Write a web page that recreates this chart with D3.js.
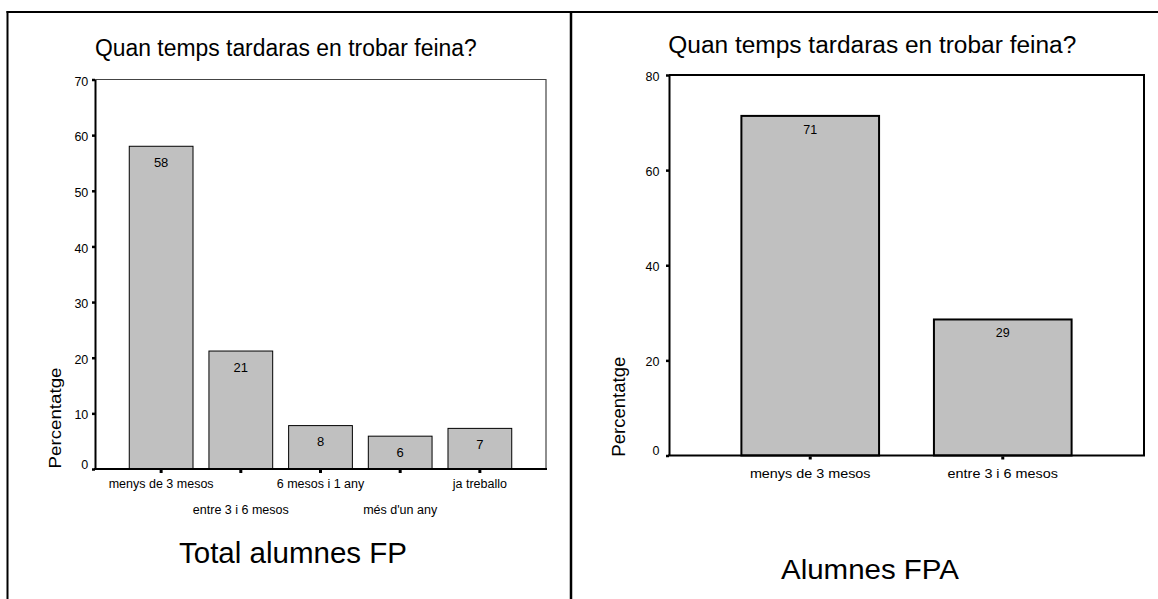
<!DOCTYPE html>
<html>
<head>
<meta charset="utf-8">
<script src="https://cdn.jsdelivr.net/npm/d3@7"></script>
<style>
  html, body { margin: 0; padding: 0; background: #fff; }
  svg { display: block; font-family: "Liberation Sans", Arial, Helvetica, sans-serif; }
</style>
</head>
<body>
<svg id="chart" width="1158" height="599"></svg>
<script>
// ---- data ----
const chartTitle = "Quan temps tardaras en trobar feina?";
const yAxisLabel = "Percentatge";

const categoriesFP = ["menys de 3 mesos", "entre 3 i 6 mesos", "6 mesos i 1 any", "més d'un any", "ja treballo"];
const valuesFP = [58.0, 21.2, 7.8, 5.9, 7.3];
const ticksFP = [0, 10, 20, 30, 40, 50, 60, 70];
const captionFP = "Total alumnes FP";

const categoriesFPA = ["menys de 3 mesos", "entre 3 i 6 mesos"];
const valuesFPA = [71.4, 28.6];
const ticksFPA = [0, 20, 40, 60, 80];
const captionFPA = "Alumnes FPA";

const svg = d3.select("#chart");
const fmt = d3.format(".0f");

svg.append("rect").attr("width", 1158).attr("height", 599).attr("fill", "#fff");

// outer frame
svg.append("line").attr("x1", 7.5).attr("x2", 7.5).attr("y1", 11).attr("y2", 599)
  .attr("stroke", "#000").attr("stroke-width", 2);
svg.append("line").attr("x1", 6.5).attr("x2", 1158).attr("y1", 12).attr("y2", 12)
  .attr("stroke", "#000").attr("stroke-width", 2);
svg.append("line").attr("x1", 571).attr("x2", 571).attr("y1", 11).attr("y2", 599)
  .attr("stroke", "#000").attr("stroke-width", 2.5);

function drawPanel(cfg) {
  const g = svg.append("g");
  const x = d3.scaleBand().domain(cfg.categories).range([cfg.x0, cfg.x1])
    .paddingInner(cfg.padInner).paddingOuter(cfg.padOuter);
  const y = d3.scaleLinear().domain([0, cfg.ticks[cfg.ticks.length - 1]]).range([cfg.y0, cfg.y1]);

  // title
  g.append("text").attr("x", cfg.titleX).attr("y", cfg.titleY)
    .attr("font-size", cfg.titleSize).attr("fill", "#000")
    .attr("textLength", cfg.titleLen).attr("lengthAdjust", "spacingAndGlyphs")
    .text(chartTitle);

  // plot frame top/right
  g.append("path")
    .attr("d", `M${cfg.x0},${cfg.y1}H${cfg.x1}V${cfg.y0}`)
    .attr("fill", "none").attr("stroke", cfg.frameColor).attr("stroke-width", cfg.frameWidth);

  // bars
  g.selectAll("rect.bar").data(cfg.values).join("rect")
    .attr("class", "bar")
    .attr("x", (d, i) => x(cfg.categories[i]))
    .attr("width", x.bandwidth())
    .attr("y", d => y(d))
    .attr("height", d => y(0) - y(d))
    .attr("fill", "#c0c0c0")
    .attr("stroke", "#000").attr("stroke-width", cfg.barStroke);

  // bar value labels
  g.selectAll("text.val").data(cfg.values).join("text")
    .attr("class", "val")
    .attr("x", (d, i) => x(cfg.categories[i]) + x.bandwidth() / 2)
    .attr("y", d => y(d) + cfg.valOffset)
    .attr("text-anchor", "middle")
    .attr("font-size", cfg.valSize).attr("fill", "#000")
    .text(d => fmt(d));

  // y axis
  const ya = g.append("g").attr("transform", `translate(${cfg.x0},0)`)
    .call(d3.axisLeft(y).tickValues(cfg.ticks).tickSize(3).tickPadding(cfg.yPad).tickSizeOuter(0));
  ya.select(".domain").attr("stroke", "#000").attr("stroke-width", 2);
  ya.selectAll(".tick line").attr("stroke", "#000").attr("stroke-width", 2.5);
  ya.selectAll(".tick text").attr("font-size", 12.5).attr("fill", "#000")
    .attr("font-family", "'Liberation Sans', Arial, sans-serif")
    .attr("dy", d => d === 0 ? cfg.zeroDy : cfg.tickDy);

  // x axis
  const xa = g.append("g").attr("transform", `translate(0,${cfg.y0})`)
    .call(d3.axisBottom(x).tickSize(3).tickSizeOuter(0));
  xa.select(".domain").attr("stroke", "#000").attr("stroke-width", 2)
    .attr("d", `M${cfg.x0 - 1},0H${cfg.x1 + 1}`);
  xa.selectAll(".tick line").attr("stroke", "#000").attr("stroke-width", 3).attr("y1", 1).attr("y2", 4);
  xa.selectAll(".tick text").remove();

  // category labels
  g.selectAll("text.cat").data(cfg.categories).join("text")
    .attr("class", "cat")
    .attr("x", d => x(d) + x.bandwidth() / 2)
    .attr("y", (d, i) => cfg.catY[i % cfg.catY.length])
    .attr("text-anchor", "middle")
    .attr("font-size", 12.5).attr("fill", "#000")
    .each(function(d) {
      if (cfg.catScale) {
        d3.select(this).attr("textLength", d.length ? null : null);
      }
    })
    .text(d => d);
  if (cfg.catScale) {
    g.selectAll("text.cat").each(function() {
      const w = this.getComputedTextLength();
      d3.select(this).attr("textLength", w * cfg.catScale).attr("lengthAdjust", "spacingAndGlyphs");
    });
  }

  // y axis title
  g.append("text")
    .attr("transform", `translate(${cfg.yLabelX},${cfg.yLabelY}) rotate(-90)`)
    .attr("text-anchor", "middle")
    .attr("font-size", cfg.yLabelSize).attr("fill", "#000")
    .attr("textLength", cfg.yLabelLen).attr("lengthAdjust", "spacingAndGlyphs")
    .text(yAxisLabel);

  // caption
  g.append("text").attr("x", cfg.capX).attr("y", cfg.capY)
    .attr("text-anchor", "middle").attr("font-size", cfg.capSize).attr("fill", "#000")
    .attr("textLength", cfg.capLen).attr("lengthAdjust", "spacingAndGlyphs")
    .text(cfg.caption);
}

drawPanel({
  categories: categoriesFP, values: valuesFP, ticks: ticksFP, caption: captionFP,
  x0: 95, x1: 546, y0: 469, y1: 79.5, padInner: 0.2, padOuter: 0.43,
  titleX: 95, titleY: 55.7, titleSize: 23.5, titleLen: 381.7,
  frameColor: "#444", frameWidth: 1.2, barStroke: 1,
  valOffset: 20.5, valSize: 13,
  yPad: 3.7, tickDy: "0.45em", zeroDy: "-0.05em",
  catY: [488.3, 513.5], catScale: null,
  yLabelX: 60.5, yLabelY: 418, yLabelSize: 17, yLabelLen: 101,
  capX: 293, capY: 562.7, capSize: 29, capLen: 228
});

drawPanel({
  categories: categoriesFPA, values: valuesFPA, ticks: ticksFPA, caption: captionFPA,
  x0: 669, x1: 1144, y0: 455.5, y1: 75, padInner: 0.285, padOuter: 0.376,
  titleX: 668.3, titleY: 52.7, titleSize: 23, titleLen: 408,
  frameColor: "#000", frameWidth: 2, barStroke: 2,
  valOffset: 17.8, valSize: 12.5,
  yPad: 6.5, tickDy: "0.4em", zeroDy: "-0.05em",
  catY: [477.7], catScale: 1.15,
  yLabelX: 625, yLabelY: 406.7, yLabelSize: 18.5, yLabelLen: 100,
  capX: 870, capY: 579.3, capSize: 28, capLen: 178
});
</script>
</body>
</html>
